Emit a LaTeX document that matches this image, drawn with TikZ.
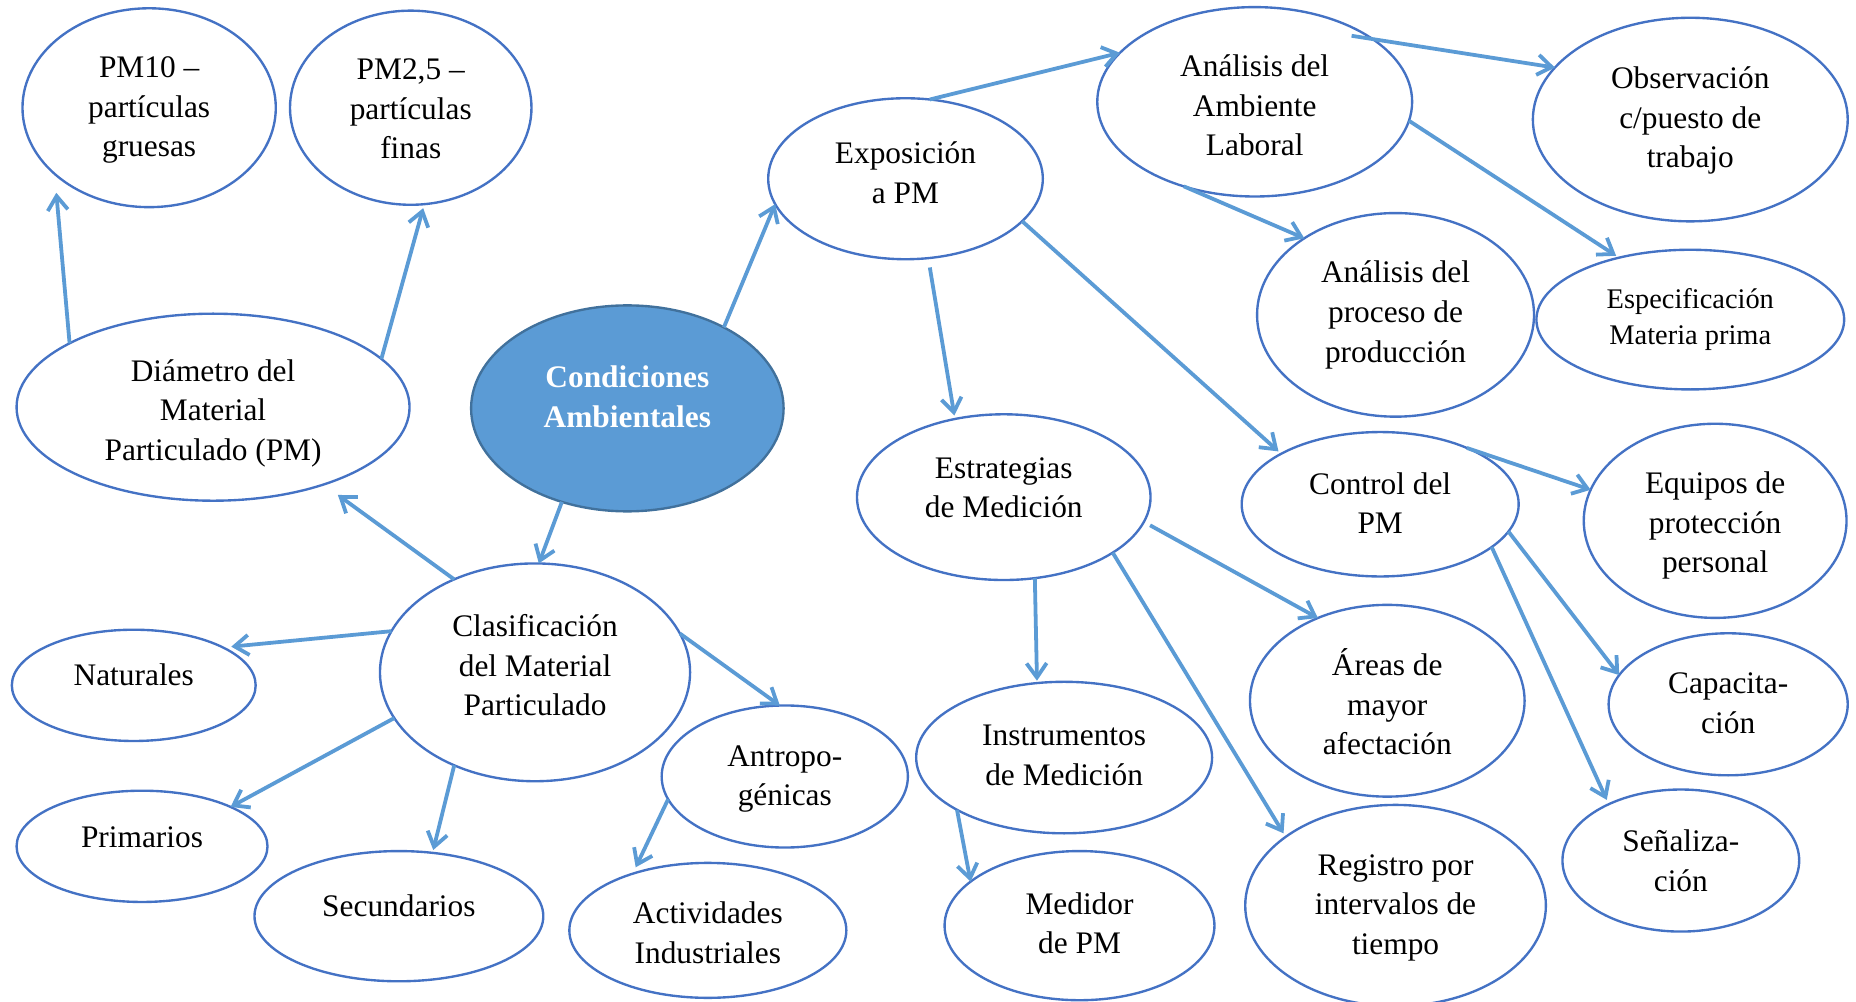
\documentclass[tikz,border=0pt]{standalone}
\usepackage{fontspec}
\setmainfont{Liberation Serif}
\usetikzlibrary{arrows.meta,shapes.geometric}
\definecolor{arr}{HTML}{5B9BD5}
\definecolor{edgeblue}{HTML}{4472C4}
\definecolor{cfill}{HTML}{5B9BD5}
\definecolor{cedge}{HTML}{41719C}
\begin{document}
\begin{tikzpicture}[x=1pt,y=-1pt,
  ell/.style={ellipse, draw=edgeblue, line width=2pt, inner sep=0pt, outer sep=0pt},
  sz/.style 2 args={minimum width=#1pt, minimum height=#2pt},
  txt/.style={align=center, font=\fontsize{26.5}{33.5}\selectfont, inner sep=0pt},
  con/.style={draw=arr, line width=3.2pt, -{Straight Barb[length=12pt,width=17pt]}},
]
\useasboundingbox (0,0) rectangle (1568,846);
% ellipses
\node[ell,sz={214}{168}] (pm10) at (126,91) {};
\node[ell,sz={204}{164}] (pm25) at (347,91) {};
\node[ell,sz={332}{158}] (dia) at (180,344) {};
\node[ell,sz={264}{174},fill=cfill,draw=cedge] (cond) at (530,345) {};
\node[ell,sz={262}{184}] (clas) at (452,568) {};
\node[ell,sz={206}{94}] (nat) at (113,579) {};
\node[ell,sz={212}{94}] (prim) at (120,715) {};
\node[ell,sz={244}{110}] (sec) at (337,774) {};
\node[ell,sz={208}{120}] (antro) at (663,656) {};
\node[ell,sz={234}{114}] (act) at (598,786) {};
\node[ell,sz={232}{136}] (expo) at (765,151) {};
\node[ell,sz={266}{160}] (amb) at (1060,86) {};
\node[ell,sz={266}{172}] (obs) at (1428,101) {};
\node[ell,sz={234}{172}] (proc) at (1179,266) {};
\node[ell,sz={260}{118}] (esp) at (1428,270) {};
\node[ell,sz={248}{140}] (estr) at (848,420) {};
\node[ell,sz={234}{122}] (ctrl) at (1166,426) {};
\node[ell,sz={222}{164}] (equip) at (1449,440) {};
\node[ell,sz={202}{120}] (cap) at (1460,595) {};
\node[ell,sz={200}{120}] (sen) at (1420,727) {};
\node[ell,sz={232}{162}] (areas) at (1172,592) {};
\node[ell,sz={254}{170}] (reg) at (1179,765) {};
\node[ell,sz={250}{128}] (instr) at (899,640) {};
\node[ell,sz={228}{126}] (med) at (912,782) {};
% texts
\node[txt] (pm10t) at (126,93) {PM10 –\\partículas\\gruesas};
\node[txt] (pm25t) at (347,92) {PM2,5 –\\partículas\\finas};
\node[txt] (diat) at (180,349) {Diámetro del\\Material\\Particulado (PM)};
\node[txt,text=white,font=\fontsize{26.5}{33.5}\selectfont\bfseries] (condt) at (530,335) {Condiciones\\Ambientales};
\node[txt] (clast) at (452,562) {Clasificación\\del Material\\Particulado};
\node[txt] (natt) at (113,570) {Naturales};
\node[txt] (primt) at (120,707) {Primarios};
\node[txt] (sect) at (337,765) {Secundarios};
\node[txt] (antrot) at (663,658) {Antropo-\\génicas};
\node[txt] (actt) at (598,788) {Actividades\\Industriales};
\node[txt] (expot) at (765,146) {Exposición\\a PM};
\node[txt] (ambt) at (1060,89) {Análisis del\\Ambiente\\Laboral};
\node[txt] (obst) at (1428,102) {Observación\\c/puesto de\\trabajo};
\node[txt] (proct) at (1179,266) {Análisis del\\proceso de\\producción};
\node[txt,font=\fontsize{24}{31}\selectfont] (espt) at (1428,270) {Especificación\\Materia prima};
\node[txt] (estrt) at (848,412) {Estrategias\\de Medición};
\node[txt] (ctrlt) at (1166,425) {Control del\\PM};
\node[txt] (equipt) at (1449,444) {Equipos de\\protección\\personal};
\node[txt] (capt) at (1460,594) {Capacita-\\ción};
\node[txt] (sent) at (1420,727) {Señaliza-\\ción};
\node[txt] (areast) at (1172,593) {Áreas de\\mayor\\afectación};
\node[txt] (regt) at (1179,767) {Registro por\\intervalos de\\tiempo};
\node[txt] (instrt) at (899,638) {Instrumentos\\de Medición};
\node[txt] (medt) at (912,780) {Medidor\\de PM};
% connectors
\draw[con,shorten >=16pt] (dia.156.5) -- (pm10.215);
\draw[con,shorten >=3.5pt] (dia.16.8) -- (pm25.278.4);
\draw[con] (cond.40.5) -- (expo.191.2);
\draw[con] (cond.235) -- (clas.88.2);
\draw[con,shorten >=15pt] (clas.131.9) -- (dia.325.6);
\draw[con,shorten >=7pt] (clas.164.9) -- (nat.23.5);
\draw[con] (clas.198.3) -- (prim.24.6);
\draw[con,shorten >=2.5pt] (clas.229.2) -- (sec.62.1);
\draw[con] (clas.15.9) -- (antro.94.8);
\draw[con,shorten >=6pt] (antro.191.3) -- (act.143.6);
\draw[con] (expo.73.8) -- (amb.160.3);
\draw[con,shorten <=8pt,shorten >=3pt] (expo.286.4) -- (estr.122.2);
\draw[con,shorten >=3pt] (expo.340.4) -- (ctrl.153.4);
\draw[con,shorten <=-18pt] (amb.28) -- (obs.159.5);
\draw[con,shorten >=3pt] (amb.353.2) -- (esp.139.2);
\draw[con] (amb.230.7) -- (proc.140.2);
\draw[con,shorten >=2pt] (estr.291.8) -- (instr.110.1);
\draw[con,shorten <=6pt] (estr.350.4) -- (areas.130.6);
\draw[con,shorten >=3.5pt] (estr.333.2) -- (reg.148.8);
\draw[con] (instr.206.8) -- (med.158.5);
\draw[con] (ctrl.33.5) -- (equip.166.9);
\draw[con] (ctrl.348.2) -- (cap.165.1);
\draw[con,shorten >=4pt] (ctrl.339) -- (sen.142.3);
\end{tikzpicture}
\end{document}
